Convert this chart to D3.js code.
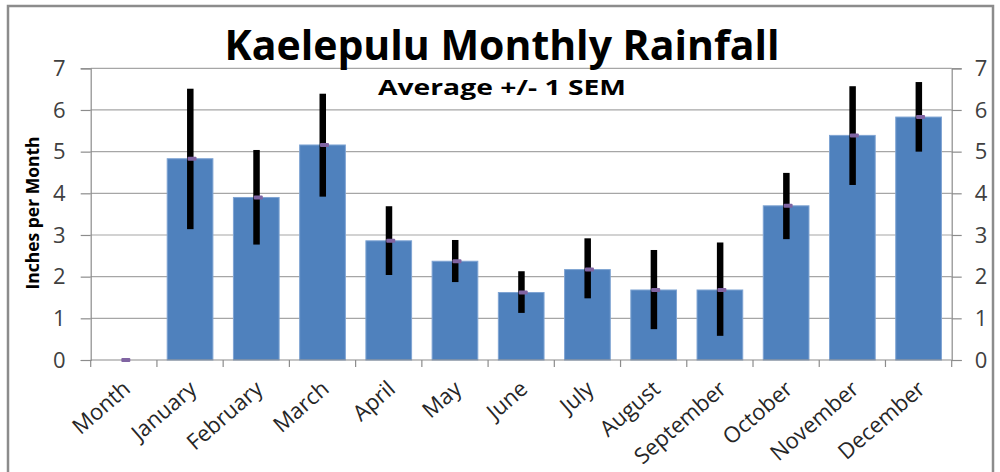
<!DOCTYPE html>
<html>
<head>
<meta charset="utf-8">
<script src="https://cdn.jsdelivr.net/npm/d3@7"></script>
<style>
  body { margin: 0; background: #fff; }
  svg { display: block; }
  text { font-family: "Open Sans", sans-serif; }
</style>
</head>
<body>
<svg id="mainsvg" width="1000" height="472"></svg>
<script>
// rainfall data, inches per month
const months = ['Month', 'January', 'February', 'March', 'April', 'May', 'June',
  'July', 'August', 'September', 'October', 'November', 'December']
const means = [0, 4.83, 3.90, 5.16, 2.86, 2.37, 1.62, 2.17, 1.68, 1.68, 3.70, 5.39, 5.83]
const errLow = [0, 3.14, 2.77, 3.92, 2.04, 1.87, 1.13, 1.48, 0.74, 0.58, 2.90, 4.20, 5.00]
const errHigh = [0, 6.51, 5.04, 6.39, 3.69, 2.88, 2.13, 2.92, 2.64, 2.82, 4.49, 6.57, 6.67]
const yTicks = [0, 1, 2, 3, 4, 5, 6, 7]

const svg = d3.select('#mainsvg')
const plotLeft = 90.7, plotRight = 951.7, plotTop = 68.3, plotBottom = 360

// outer chart frame
svg.append('rect')
  .attr('x', 8).attr('y', 6)
  .attr('width', 985).attr('height', 490)
  .attr('fill', 'none')
  .attr('stroke', '#8c8c8c')
  .attr('stroke-width', 2.5)

const x = d3.scaleBand().domain(months).range([plotLeft, plotRight]).paddingInner(0.31).paddingOuter(0.155)
const xb = d3.scaleBand().domain(months).range([plotLeft, plotRight])
const y = d3.scaleLinear().domain([0, 7]).range([plotBottom, plotTop])

// gridlines
svg.append('g')
  .selectAll('line')
  .data(yTicks.slice(1))
  .join('line')
  .attr('x1', plotLeft).attr('x2', plotRight)
  .attr('y1', d => y(d)).attr('y2', d => y(d))
  .attr('stroke', '#a6a6a6')
  .attr('stroke-width', 1.2)

// left axis
const yAxisL = svg.append('g')
  .attr('transform', `translate(${plotLeft},0)`)
  .call(d3.axisLeft(y).tickValues(yTicks).tickSize(10).tickPadding(15).tickFormat(d3.format('d')))
// right axis
const yAxisR = svg.append('g')
  .attr('transform', `translate(${plotRight},0)`)
  .call(d3.axisRight(y).tickValues(yTicks).tickSize(10).tickPadding(13).tickFormat(d3.format('d')))

;[yAxisL, yAxisR].forEach(a => {
  a.select('.domain').attr('stroke', '#8c8c8c').attr('stroke-width', 1.2)
  a.selectAll('.tick line').attr('stroke', '#8c8c8c').attr('stroke-width', 1.2)
  a.selectAll('.tick text')
    .attr('fill', '#404040')
    .style('font-size', '22px')
    .style('font-family', '"Open Sans", sans-serif')
})

// bars
svg.append('g')
  .selectAll('rect')
  .data(months.map((m, i) => ({m, v: means[i]})).filter(d => d.v > 0))
  .join('rect')
  .attr('x', d => x(d.m))
  .attr('y', d => y(d.v))
  .attr('width', x.bandwidth())
  .attr('height', d => y(0) - y(d.v))
  .attr('fill', '#4f81bd')
  .attr('stroke', '#7fa4d3')
  .attr('stroke-width', 1)

// x axis with ticks at band boundaries
svg.append('line')
  .attr('x1', plotLeft).attr('x2', plotRight)
  .attr('y1', plotBottom).attr('y2', plotBottom)
  .attr('stroke', '#8c8c8c').attr('stroke-width', 1.2)
svg.append('g')
  .selectAll('line')
  .data(months.concat(['end']))
  .join('line')
  .attr('x1', (d, i) => plotLeft + i * xb.bandwidth())
  .attr('x2', (d, i) => plotLeft + i * xb.bandwidth())
  .attr('y1', plotBottom).attr('y2', plotBottom + 7)
  .attr('stroke', '#8c8c8c').attr('stroke-width', 1.2)

// error bars
svg.append('g')
  .selectAll('rect')
  .data(months.map((m, i) => ({m, lo: errLow[i], hi: errHigh[i]})).filter(d => d.hi > 0))
  .join('rect')
  .attr('x', d => xb(d.m) + xb.bandwidth() / 2 - 3)
  .attr('y', d => y(d.hi))
  .attr('width', 6.5)
  .attr('height', d => y(d.lo) - y(d.hi))
  .attr('fill', '#000')

// mean markers
svg.append('g')
  .selectAll('rect')
  .data(months.map((m, i) => ({m, v: means[i]})))
  .join('rect')
  .attr('x', d => xb(d.m) + xb.bandwidth() / 2 - 2.5)
  .attr('y', d => y(d.v) - 2)
  .attr('width', 9)
  .attr('height', 4)
  .attr('rx', 1)
  .attr('fill', '#8064a2')

// category labels
svg.append('g')
  .selectAll('text')
  .data(months)
  .join('text')
  .attr('transform', d => `translate(${xb(d) + xb.bandwidth() / 2 + 8},391) rotate(-41)`)
  .attr('text-anchor', 'end')
  .attr('fill', '#262626')
  .style('font-size', '22px')
  .text(d => d)

// titles
svg.append('text')
  .attr('x', 502).attr('y', 60)
  .attr('text-anchor', 'middle')
  .style('font-size', '41px')
  .style('font-weight', 'bold')
  .attr('fill', '#000')
  .text('Kaelepulu Monthly Rainfall')
svg.append('text')
  .attr('x', 502).attr('y', 94.5)
  .attr('text-anchor', 'middle')
  .attr('textLength', 248)
  .attr('lengthAdjust', 'spacingAndGlyphs')
  .style('font-size', '22px')
  .style('font-weight', 'bold')
  .attr('fill', '#000')
  .text('Average +/- 1 SEM')
svg.append('text')
  .attr('transform', 'translate(39,213) rotate(-90)')
  .attr('text-anchor', 'middle')
  .style('font-size', '17.5px')
  .style('font-weight', 'bold')
  .attr('fill', '#000')
  .text('Inches per Month')
</script>
</body>
</html>
